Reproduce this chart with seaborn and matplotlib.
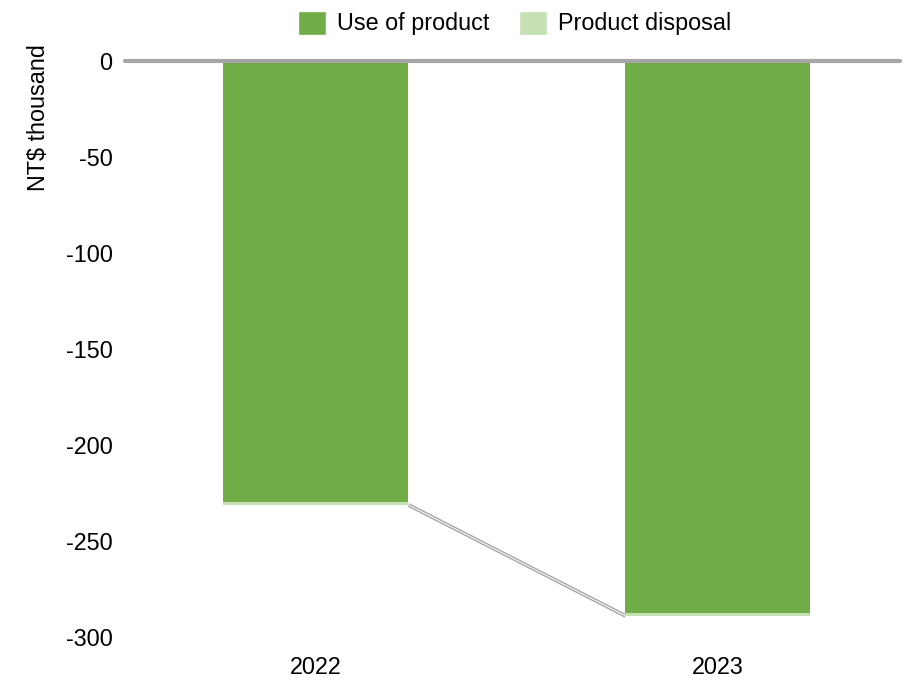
import numpy as np
import pandas as pd
import seaborn as sns
import matplotlib.pyplot as plt
from matplotlib.patches import Patch

#%% Data
years           = ['2022', '2023']
use_of_product  = [-229.7, -287.5]
disposal        = [-1.5, -1.5]
yticks          = [0, -50, -100, -150, -200, -250, -300]

col_use     = '#70ad47'
col_disp    = '#c5e0b4'
col_grey    = '#a6a6a6'

df = pd.DataFrame({'year': years, 'use': use_of_product, 'disposal': disposal})
df['total'] = df['use'] + df['disposal']

#%% Figure
sns.set_style('white')
plt.rcParams['font.family'] = ['Liberation Sans', 'DejaVu Sans']
plt.rcParams['axes.unicode_minus'] = False
plt.rcParams['text.color'] = 'black'
plt.rcParams['axes.labelcolor'] = 'black'
plt.rcParams['xtick.color'] = 'black'
plt.rcParams['ytick.color'] = 'black'
fs = 16.8

fig, ax = plt.subplots(figsize=(9.13, 6.78), dpi=100)
fig.subplots_adjust(left=125/913, right=900/913, bottom=41/678, top=1-61/678)

barw = 0.46
# stacked: total (light) underneath, use of product on top
sns.barplot(data=df, x='year', y='total', color=col_disp, width=barw, saturation=1,
            linewidth=0, ax=ax, zorder=2)
sns.barplot(data=df, x='year', y='use', color=col_use, width=barw, saturation=1,
            linewidth=0, ax=ax, zorder=3)

# connector between the bottoms of the stacks (double grey line)
xs = [0 + barw/2, 1 - barw/2]
ax.plot(xs, df['total'], color=col_grey, lw=2.7, solid_capstyle='butt', zorder=1)
ax.plot(xs, df['total'], color='white', lw=0.7, solid_capstyle='butt', zorder=1)

ax.axhline(0, color=col_grey, lw=3, clip_on=False, zorder=4)

ax.set_xlim(-0.475, 1.453)
ax.set_ylim(-300, 0)
ax.set_yticks(yticks)
ax.tick_params(axis='y', length=0, pad=9, labelsize=fs)
ax.tick_params(axis='x', length=0, pad=14, labelsize=fs)
ax.set_xlabel('')
ax.set_ylabel('NT$ thousand', fontsize=fs, loc='top')
ax.yaxis.set_label_coords(-0.097, 1.03)
sns.despine(ax=ax, left=True, bottom=True)

handles = [Patch(facecolor=col_use, label='Use of product'),
           Patch(facecolor=col_disp, label='Product disposal')]
fig.legend(handles=handles, loc='center', bbox_to_anchor=(514.5/913, 1-23/678), ncol=2,
           frameon=False, fontsize=fs, handlelength=1.2, handleheight=1.2,
           handletextpad=0.47, columnspacing=1.3, borderaxespad=0)

fig.savefig('out.png', dpi=100)
